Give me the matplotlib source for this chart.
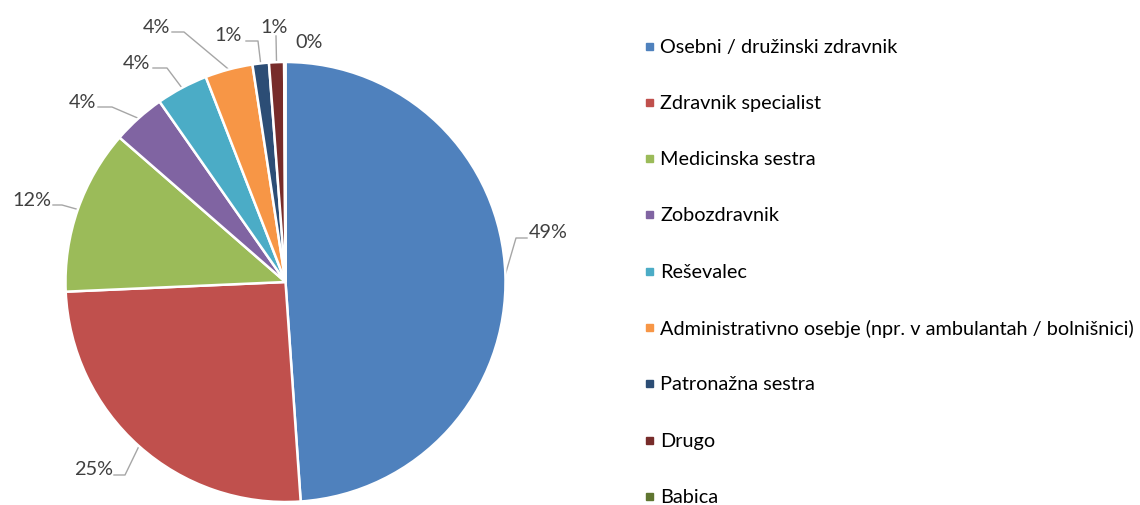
import matplotlib.pyplot as plt
import numpy as np

# data
kategorije = ['Osebni / družinski zdravnik', 'Zdravnik specialist', 'Medicinska sestra',
              'Zobozdravnik', 'Reševalec',
              'Administrativno osebje (npr. v ambulantah / bolnišnici)',
              'Patronažna sestra', 'Drugo', 'Babica']
delezi = [48.9, 25.4, 12.1, 3.9, 3.8, 3.5, 1.2, 1.1, 0.1]
oznake = ['49%', '25%', '12%', '4%', '4%', '4%', '1%', '1%', '0%']
barve = ['#4F81BD', '#C0504D', '#9BBB59', '#8064A2', '#4BACC6',
         '#F79646', '#2C4D75', '#772C2A', '#5F7530']

W, H = 1140, 506
plt.rcParams['font.family'] = ['Lato', 'DejaVu Sans']

fig = plt.figure(figsize=(W / 100, H / 100), dpi=100)
ax = fig.add_axes([0, 0, 1, 1])

def y_(y):  # image y (top-down) -> data y
    return H - y

cx, cy, r = 285.5, y_(283), 220
wedges, _ = ax.pie(delezi, colors=barve, startangle=90, counterclock=False,
                   center=(cx, cy), radius=r, frame=True,
                   wedgeprops=dict(edgecolor='white', linewidth=1.8))
ax.set_xlim(0, W)
ax.set_ylim(0, H)
ax.set_aspect('equal')
ax.axis('off')

# label positions (image coords), alignment, leader elbow points
pos = [(529, 233, 'left'), (113, 470, 'right'), (51, 200, 'right'),
       (96, 102, 'right'), (150, 63, 'right'), (170, 27, 'right'),
       (242, 35, 'right'), (274, 27, 'center'), (309, 42, 'center')]
elbows = [[(516, 239), (527, 239)], [(125, 476), (114, 476)],
          [(62, 206), (53, 206)], [(112, 108), (98, 108)],
          [(167, 69), (153, 69)], [(184, 33), (172, 33)],
          [(258, 42), (246, 42)], [(276, 37)], []]

for w, lab, (tx, ty, ha), el in zip(wedges, oznake, pos, elbows):
    th = np.deg2rad((w.theta1 + w.theta2) / 2)
    ex, ey = cx + r * np.cos(th), cy + r * np.sin(th)
    if el:
        xs = [ex] + [p[0] for p in el]
        ys = [ey] + [y_(p[1]) for p in el]
        ax.plot(xs, ys, color='#A6A6A6', lw=1, zorder=0)
    ax.text(tx, y_(ty), lab, ha=ha, va='center', fontsize=14.3, color='#404040')

# legend
for i, (k, b) in enumerate(zip(kategorije, barve)):
    ly = y_(47 + i * 56.3)
    ax.add_patch(plt.Rectangle((646, ly - 3.5), 7, 7, color=b))
    ax.text(660, ly, k, ha='left', va='center', fontsize=14.3, color='#000000')

fig.savefig('out.png', dpi=100)
